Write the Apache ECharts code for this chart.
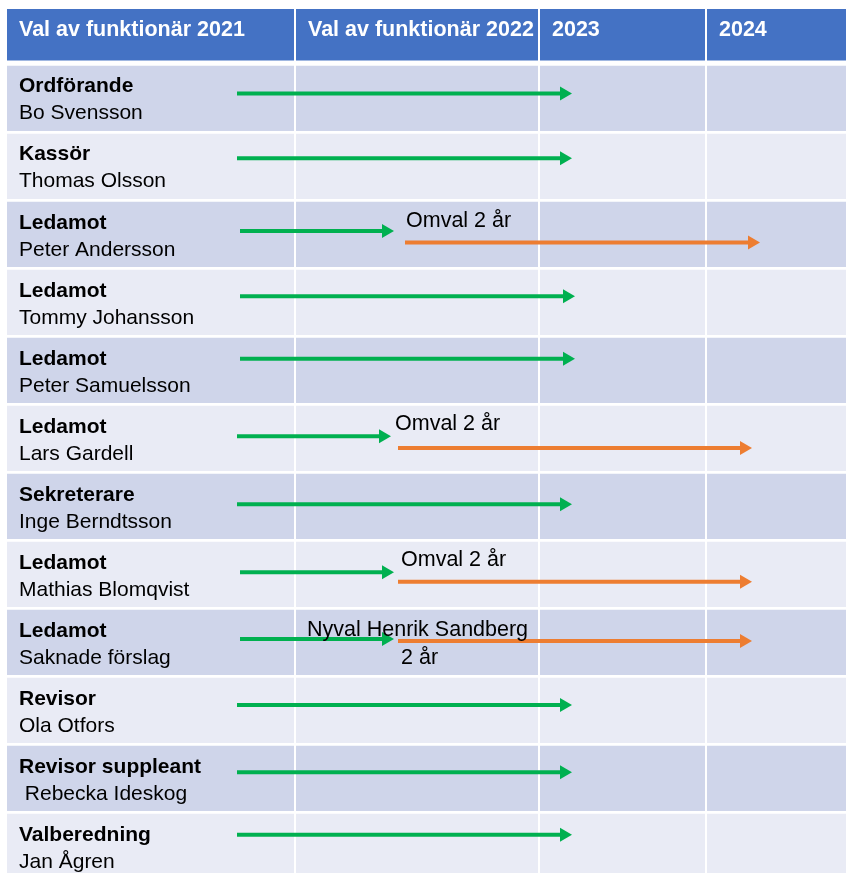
<!DOCTYPE html>
<html>
<head>
<meta charset="utf-8" />
<title>Val av funktionär</title>
<script src="https://cdn.jsdelivr.net/npm/echarts@6/dist/echarts.min.js"></script>
<style>
    html, body { margin: 0; padding: 0; background: #ffffff; }
    #main { width: 846px; height: 873px; }
</style>
</head>
<body>
<div id="main"></div>
<script>
    // table header + column edges (x in table units)
    var headers = ['Val av funktionär 2021', 'Val av funktionär 2022', '2023', '2024'];
    var colEdges = [7, 295, 539, 706, 846];

    // one row per position
    var roles = ['Ordförande', 'Kassör', 'Ledamot', 'Ledamot', 'Ledamot', 'Ledamot',
        'Sekreterare', 'Ledamot', 'Ledamot', 'Revisor', 'Revisor suppleant', 'Valberedning'];
    var names = ['Bo Svensson', 'Thomas Olsson', 'Peter Andersson', 'Tommy Johansson', 'Peter Samuelsson',
        'Lars Gardell', 'Inge Berndtsson', 'Mathias Blomqvist', 'Saknade förslag', 'Ola Otfors',
        ' Rebecka Ideskog', 'Jan Ågren'];

    // green arrows (current term)
    var greenY = [0.41, 1.36, 2.43, 3.39, 4.31, 5.45, 6.45, 7.45, 8.43, 9.40, 10.39, 11.31];
    var greenStart = [237, 237, 240, 240, 240, 237, 237, 240, 240, 237, 237, 237];
    var greenEnd = [572, 572, 394, 575, 575, 391, 572, 394, 394, 572, 572, 572];

    // orange arrows (new 2 year term)
    var orangeY = [2.60, 5.62, 7.59, 8.46];
    var orangeStart = [405, 398, 398, 398];
    var orangeEnd = [760, 752, 752, 752];

    // notes above the orange arrows
    var noteText = ['Omval 2 år', 'Omval 2 år', 'Omval 2 år', 'Nyval Henrik Sandberg', '2 år'];
    var noteX = [406, 395, 401, 307, 401];
    var noteY = [2.29, 5.27, 7.27, 8.30, 8.71];

    var FONT = '"Liberation Sans", Arial, sans-serif';

    var cellData = [];
    for (var r = -1; r < roles.length; r++) {
        for (var c = 0; c < headers.length; c++) {
            cellData.push([c, r]);
        }
    }
    var rowData = roles.map(function (role, i) { return [i, role, names[i]]; });
    var greenData = greenY.map(function (y, i) { return [greenStart[i], greenEnd[i], y]; });
    var orangeData = orangeY.map(function (y, i) { return [orangeStart[i], orangeEnd[i], y]; });
    var noteData = noteText.map(function (t, i) { return [noteX[i], noteY[i], t]; });

    function renderCell(params, api) {
        var c = api.value(0), r = api.value(1);
        var x0 = api.coord([colEdges[c], 0])[0] + (c > 0 ? 1 : 0);
        var x1 = api.coord([colEdges[c + 1], 0])[0] - (c < headers.length - 1 ? 1 : 0);
        var y0, y1, fill;
        if (r < 0) {
            y0 = api.coord([0, -0.834])[1];
            y1 = api.coord([0, -0.076])[1];
            fill = '#4472C4';
        } else {
            y0 = api.coord([0, r])[1];
            y1 = api.coord([0, r + 1])[1] - 2.7;
            fill = r % 2 === 0 ? '#CFD5EA' : '#E9EBF5';
        }
        var children = [{
            type: 'rect',
            shape: { x: x0, y: y0, width: x1 - x0, height: y1 - y0 },
            style: { fill: fill }
        }];
        if (r < 0) {
            children.push({
                type: 'text',
                style: {
                    text: headers[c], x: x0 + 12, y: y0 + 21,
                    fill: '#ffffff', fontSize: 21.5, fontWeight: 'bold', fontFamily: FONT,
                    align: 'left', verticalAlign: 'middle'
                }
            });
        }
        return { type: 'group', children: children };
    }

    function renderRowText(params, api) {
        var i = api.value(0);
        var pt = api.coord([colEdges[0], i]);
        return {
            type: 'group',
            children: [{
                type: 'text',
                style: {
                    text: roles[i], x: pt[0] + 12, y: pt[1] + 21,
                    fill: '#000000', fontSize: 21, fontWeight: 'bold', fontFamily: FONT,
                    align: 'left', verticalAlign: 'middle'
                }
            }, {
                type: 'text',
                style: {
                    text: names[i], x: pt[0] + 12, y: pt[1] + 48,
                    fill: '#000000', fontSize: 21, fontFamily: FONT,
                    align: 'left', verticalAlign: 'middle'
                }
            }]
        };
    }

    function arrowRenderer(color) {
        return function (params, api) {
            var p0 = api.coord([api.value(0), api.value(2)]);
            var p1 = api.coord([api.value(1), api.value(2)]);
            var headLen = 12, headHalf = 7;
            return {
                type: 'group',
                children: [{
                    type: 'line',
                    shape: { x1: p0[0], y1: p0[1], x2: p1[0] - headLen + 1, y2: p1[1] },
                    style: { stroke: color, lineWidth: 4 }
                }, {
                    type: 'polygon',
                    shape: { points: [[p1[0] - headLen, p1[1] - headHalf], [p1[0], p1[1]], [p1[0] - headLen, p1[1] + headHalf]] },
                    style: { fill: color }
                }]
            };
        };
    }

    function renderNote(params, api) {
        var pt = api.coord([api.value(0), api.value(1)]);
        return {
            type: 'text',
            style: {
                text: noteText[params.dataIndex], x: pt[0], y: pt[1],
                fill: '#000000', fontSize: 21.5, fontFamily: FONT,
                align: 'left', verticalAlign: 'middle'
            }
        };
    }

    var myChart = echarts.init(document.getElementById('main'), null, { renderer: 'canvas' });
    var option = {
        backgroundColor: '#ffffff',
        animation: false,
        grid: { left: 0, right: 0, top: 0, bottom: 0 },
        xAxis: { type: 'value', min: 0, max: 846, show: false },
        yAxis: { type: 'value', min: -0.966, max: 11.871, inverse: true, show: false },
        series: [
            { type: 'custom', name: 'cells', data: cellData, renderItem: renderCell, clip: false, silent: true },
            { type: 'custom', name: 'rows', data: rowData, renderItem: renderRowText, clip: false, silent: true },
            { type: 'custom', name: 'green', data: greenData, renderItem: arrowRenderer('#00B050'), clip: false, silent: true },
            { type: 'custom', name: 'orange', data: orangeData, renderItem: arrowRenderer('#ED7D31'), clip: false, silent: true },
            { type: 'custom', name: 'notes', data: noteData, renderItem: renderNote, clip: false, silent: true }
        ]
    };
    myChart.setOption(option);
</script>
</body>
</html>
